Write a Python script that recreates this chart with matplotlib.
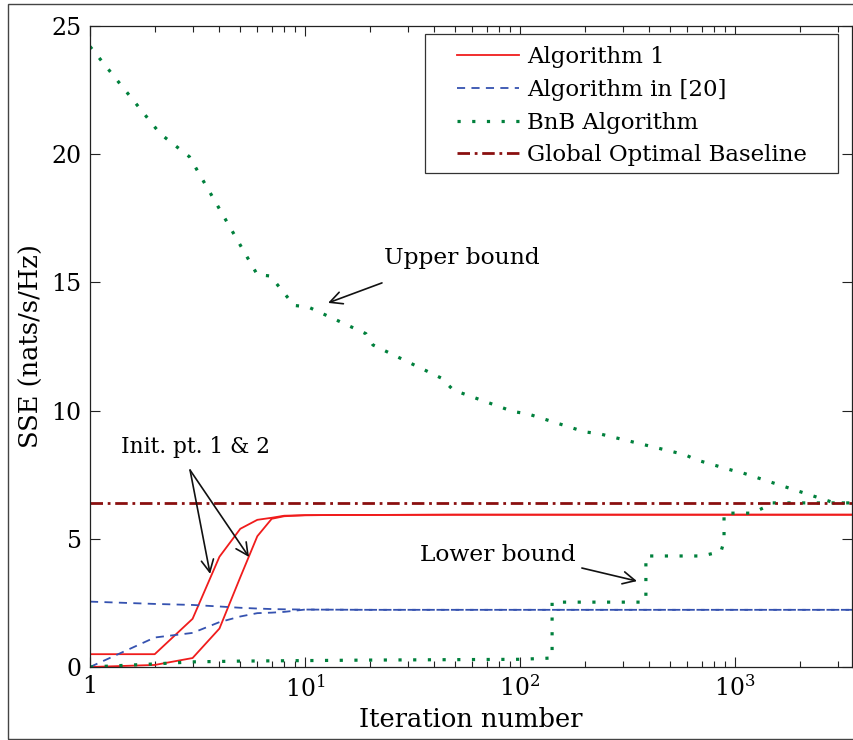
import matplotlib
matplotlib.use("Agg")
import matplotlib.pyplot as plt
from matplotlib.patches import Rectangle
from matplotlib.ticker import FixedLocator, FixedFormatter, LogLocator, NullFormatter

plt.rcParams['font.family'] = ['DejaVu Serif']
plt.rcParams['mathtext.fontset'] = 'dejavuserif'

# Algorithm 1, two initial points
alg1_x = [1, 2, 3, 4, 5, 6, 7, 8, 10, 15, 20, 50, 100, 1000, 3500]
alg1_init1 = [0.5, 0.5, 1.88, 4.3, 5.39, 5.74, 5.82, 5.9, 5.92, 5.93, 5.93, 5.94, 5.94, 5.94, 5.94]
alg1_init2 = [0.0, 0.08, 0.35, 1.5, 3.5, 5.1, 5.78, 5.88, 5.92, 5.93, 5.93, 5.94, 5.94, 5.94, 5.94]

# Algorithm in [20], two initial points
ref_x = [1, 2, 3, 4, 5, 6, 7, 8, 10, 20, 3500]
ref_init1 = [2.55, 2.46, 2.42, 2.36, 2.31, 2.28, 2.26, 2.25, 2.24, 2.23, 2.23]
ref_init2 = [0.0, 1.15, 1.33, 1.75, 1.97, 2.1, 2.12, 2.15, 2.24, 2.23, 2.23]

# BnB algorithm: upper and lower bounds
ub_x = [1, 2.12, 2.9, 6.0, 6.9, 8.9, 10.3, 19.2, 20.7, 43, 49, 93, 108, 200, 233,
        585, 660, 980, 1040, 2900, 3500]
ub_y = [24.2, 20.8, 19.9, 15.3, 15.25, 14.1, 14.05, 13.0, 12.56, 11.27, 10.8, 9.96, 9.88,
        9.17, 9.1, 8.28, 8.08, 7.66, 7.62, 6.4, 6.4]
lb_x = [1, 2, 3, 5, 20, 100, 141, 141, 380, 385, 385, 700, 860, 889, 889, 1200, 1350,
        1460, 3500]
lb_y = [0.0, 0.12, 0.2, 0.23, 0.27, 0.3, 0.35, 2.53, 2.53, 2.75, 4.33, 4.33, 4.5, 4.9,
        6.0, 6.0, 6.2, 6.4, 6.4]

# Global optimum
baseline_x = [1, 3500]
baseline_y = [6.4, 6.4]

x_ticks = [1, 10, 100, 1000]
x_tick_labels = ['1', r'$10^1$', r'$10^2$', r'$10^3$']
y_ticks = [0, 5, 10, 15, 20, 25]

fig = plt.figure(figsize=(8.54, 7.40), dpi=100)
ax = fig.add_axes([90 / 854, 1 - 667 / 740, 762 / 854, 641 / 740])

red = '#f01c1c'
blue = '#3552b0'
green = '#00803c'
darkred = '#8a0f0f'

ax.plot(alg1_x, alg1_init1, color=red, lw=1.3, label='Algorithm 1')
ax.plot(alg1_x, alg1_init2, color=red, lw=1.3)
ax.plot(ref_x, ref_init1, color=blue, lw=1.3, dashes=(4.5, 3.5), label='Algorithm in [20]')
ax.plot(ref_x, ref_init2, color=blue, lw=1.3, dashes=(4.5, 3.5))
ax.plot(ub_x, ub_y, color=green, lw=2.3, dashes=(1, 3.6), label='BnB Algorithm')
ax.plot(lb_x, lb_y, color=green, lw=2.3, dashes=(1, 3.6))
ax.plot(baseline_x, baseline_y, color=darkred, lw=2.0, dashes=(4.5, 1.7, 1, 1.7),
        label='Global Optimal Baseline')

ax.set_xscale('log')
ax.set_xlim(1, 3500)
ax.set_ylim(0, 25)
ax.xaxis.set_major_locator(FixedLocator(x_ticks))
ax.xaxis.set_major_formatter(FixedFormatter(x_tick_labels))
ax.xaxis.set_minor_locator(LogLocator(base=10, subs=range(2, 10), numticks=20))
ax.xaxis.set_minor_formatter(NullFormatter())
ax.set_yticks(y_ticks)
ax.tick_params(which='both', direction='in', top=True, right=True, labelsize=17, pad=6,
               width=0.8, color='#222222')
ax.tick_params(which='major', length=7)
ax.tick_params(which='minor', length=4)
for s in ax.spines.values():
    s.set_linewidth(0.9)
    s.set_color('#222222')

ax.set_xlabel('Iteration number', fontsize=18.5)
ax.xaxis.set_label_coords(0.5, -0.063)
ax.set_ylabel('SSE (nats/s/Hz)', fontsize=18.5)
ax.yaxis.set_label_coords(-0.06, 0.5)

# legend entries without their own frame; the box is drawn separately
leg = ax.legend(loc='upper left', bbox_to_anchor=((457 - 90) / 762, 1 - (46 - 26) / 641),
                borderaxespad=0, fontsize=16.5, frameon=False, handlelength=2.7,
                handletextpad=0.35, labelspacing=0.47, borderpad=0)
ax.add_patch(Rectangle(((425 - 90) / 762, 1 - (173 - 26) / 641),
                       (838 - 425) / 762, (173 - 34) / 641,
                       transform=ax.transAxes, facecolor='white',
                       edgecolor='#333333', lw=0.9, zorder=4.5))

arrow = dict(arrowstyle='->', color='#111111', lw=1.2, shrinkA=0, shrinkB=0,
             mutation_scale=22)
ax.text(23.3, 15.95, 'Upper bound', fontsize=16.8, ha='left', va='center')
ax.annotate('', xy=(12.8, 14.2), xytext=(22.8, 14.98), arrowprops=arrow)
ax.text(34.3, 4.37, 'Lower bound', fontsize=16.8, ha='left', va='center')
ax.annotate('', xy=(350, 3.35), xytext=(194, 3.86), arrowprops=arrow)
ax.text(3.09, 8.58, 'Init. pt. 1 & 2', fontsize=15.6, ha='center', va='center')
ax.annotate('', xy=(3.62, 3.63), xytext=(2.92, 7.68), arrowprops=arrow)
ax.annotate('', xy=(5.49, 4.29), xytext=(2.92, 7.68), arrowprops=arrow)

# thin frame around the figure
fig.patches.append(Rectangle((8 / 854, 1 / 740), 860 / 854, 735 / 740,
                             transform=fig.transFigure, fill=False,
                             edgecolor='#444444', lw=1.0))

fig.savefig('out.png', dpi=100)
